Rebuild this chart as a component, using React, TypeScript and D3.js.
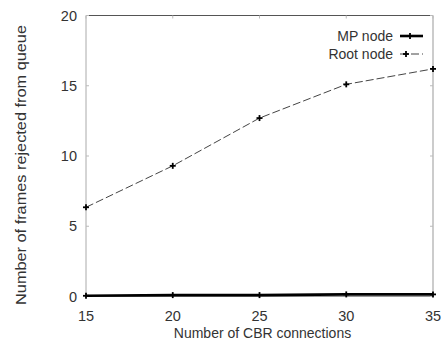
import React from "react";
import * as d3 from "d3";

const connections = [15, 20, 25, 30, 35];
const mpNode = [0.05, 0.1, 0.1, 0.15, 0.15];
const rootNode = [6.35, 9.3, 12.7, 15.1, 16.2];
const xTicks = [15, 20, 25, 30, 35];
const yTicks = [0, 5, 10, 15, 20];

const W = 445;
const H = 344;
const left = 86;
const right = 433;
const top = 15.5;
const bottom = 296.5;

export default function App() {
  const x = d3.scaleLinear().domain([15, 35]).range([left, right]);
  const y = d3.scaleLinear().domain([0, 20]).range([bottom, top]);
  const line = d3
    .line<number>()
    .x((_, i) => x(connections[i]))
    .y((d) => y(d));

  const font = "Liberation Sans, Arial, Helvetica, sans-serif";
  const cross = (cx: number, cy: number, k: string) => (
    <g key={k} stroke="#000" strokeWidth={1.8}>
      <line x1={cx - 3} x2={cx + 3} y1={cy} y2={cy} />
      <line x1={cx} x2={cx} y1={cy - 3} y2={cy + 3} />
    </g>
  );

  return (
    <svg
      width={W}
      height={H}
      style={{ position: "absolute", left: 0, top: 0, background: "#fff" }}
      fontFamily={font}
    >
      <rect x={0} y={0} width={W} height={H} fill="#fff" />
      {/* frame */}
      <line x1={left} x2={right} y1={top} y2={top} stroke="#555" strokeWidth={1} />
      <line x1={left} x2={left} y1={top} y2={bottom} stroke="#aaa" strokeWidth={1} />
      <line x1={right} x2={right} y1={top} y2={bottom} stroke="#999" strokeWidth={1} />
      <line x1={left} x2={right} y1={bottom} y2={bottom} stroke="#999" strokeWidth={1} />
      {/* y ticks */}
      {yTicks.map((t) => (
        <g key={"y" + t}>
          <line x1={left} x2={left + 3} y1={y(t)} y2={y(t)} stroke="#bbb" />
          <line x1={right - 3} x2={right} y1={y(t)} y2={y(t)} stroke="#bbb" />
          <text
            x={77}
            y={y(t)}
            dy="0.36em"
            textAnchor="end"
            fontSize={14.5}
            fill="#333"
          >
            {t}
          </text>
        </g>
      ))}
      {/* x ticks */}
      {xTicks.map((t) => (
        <g key={"x" + t}>
          <line x1={x(t)} x2={x(t)} y1={bottom} y2={bottom - 3} stroke="#bbb" />
          <line x1={x(t)} x2={x(t)} y1={top} y2={top + 3} stroke="#bbb" />
          <text
            x={x(t)}
            y={316}
            dy="0.36em"
            textAnchor="middle"
            fontSize={14.5}
            fill="#333"
          >
            {t}
          </text>
        </g>
      ))}
      {/* axis titles */}
      <text x={(left + right) / 2 + 3} y={338} textAnchor="middle" fontSize={14} fill="#333">
        Number of CBR connections
      </text>
      <text
        transform={`translate(21,165) rotate(-90) scale(1.165,1)`}
        textAnchor="middle"
        dy="0.36em"
        fontSize={14}
        fill="#333"
      >
        Number of frames rejected from queue
      </text>
      {/* series */}
      <path
        d={line(rootNode) || ""}
        fill="none"
        stroke="#444"
        strokeWidth={1}
        strokeDasharray="8,3"
      />
      {rootNode.map((v, i) => cross(x(connections[i]), y(v), "r" + i))}
      <path d={line(mpNode) || ""} fill="none" stroke="#000" strokeWidth={2.6} />
      {mpNode.map((v, i) => cross(x(connections[i]), y(v), "m" + i))}
      {/* legend */}
      <text x={393} y={36} dy="0.36em" textAnchor="end" fontSize={14} fill="#333">
        MP node
      </text>
      <line x1={400} x2={423} y1={36} y2={36} stroke="#000" strokeWidth={2.6} />
      {cross(410, 36, "lm")}
      <text x={393} y={54} dy="0.36em" textAnchor="end" fontSize={14} fill="#333">
        Root node
      </text>
      <line x1={400} x2={423} y1={54} y2={54} stroke="#444" strokeWidth={1} strokeDasharray="8,3" />
      {cross(406, 54, "lr")}
    </svg>
  );
}
